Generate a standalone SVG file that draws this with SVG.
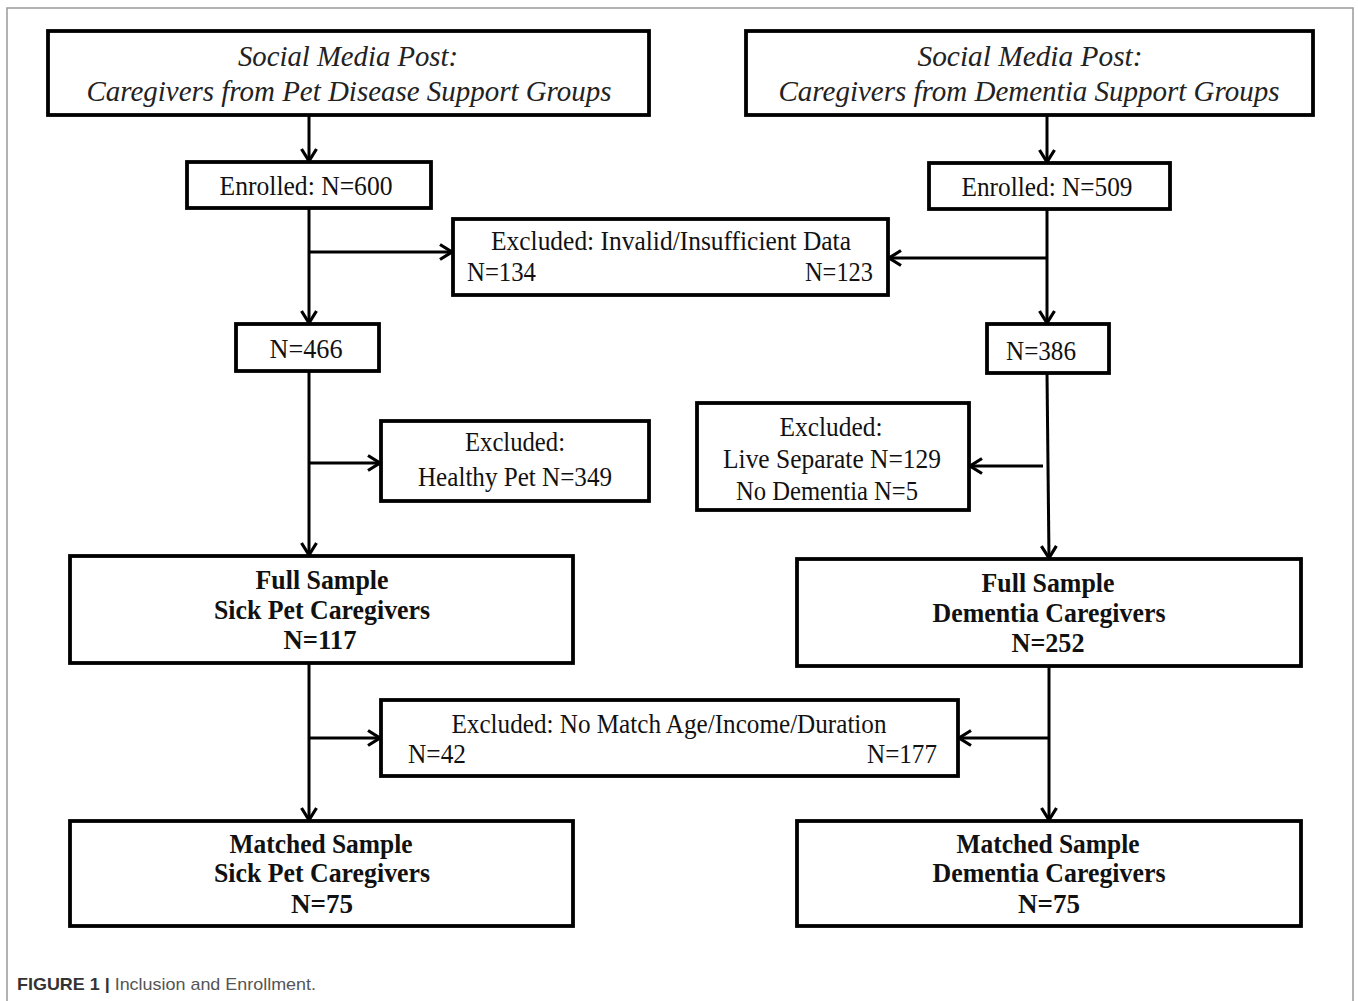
<svg xmlns="http://www.w3.org/2000/svg" width="1358" height="1001" viewBox="0 0 1358 1001">
<style>
.box{fill:#fff;stroke:#000;stroke-width:3.8}
.t{font-family:"Liberation Serif","Times New Roman",serif;font-size:28px;fill:#111;text-anchor:middle}
.ti{font-style:italic;font-size:30px;fill:#222}
.tb{font-weight:bold;font-size:27px}
.tl{text-anchor:start}
.te{text-anchor:end}
.c{fill:none;stroke:#000;stroke-width:3;marker-end:url(#ah)}
.cap{font-family:"Liberation Sans",Arial,sans-serif;font-size:17px;fill:#555}
</style>
<defs>
<marker id="ah" markerUnits="userSpaceOnUse" markerWidth="20" markerHeight="20" viewBox="0 0 20 20" refX="15" refY="10" orient="auto">
<path d="M3,2.5 L15,10 L3,17.5" fill="none" stroke="#000" stroke-width="3.2" stroke-linejoin="miter"/>
</marker>
</defs>
<rect width="1358" height="1001" fill="#fff"/>
<path d="M7,1001 V8 H1353 V1001" fill="none" stroke="#999" stroke-width="1.5"/>

<g id="connectors">
<line class="c" x1="309" y1="115" x2="309" y2="161"/>
<line class="c" x1="309" y1="208" x2="309" y2="323"/>
<line class="c" x1="309" y1="252" x2="452" y2="252"/>
<line class="c" x1="309" y1="371" x2="309" y2="555"/>
<line class="c" x1="309" y1="463" x2="380" y2="463"/>
<line class="c" x1="309" y1="663" x2="309" y2="820"/>
<line class="c" x1="309" y1="738" x2="380" y2="738"/>
<line class="c" x1="1047" y1="115" x2="1047" y2="162"/>
<line class="c" x1="1047" y1="209" x2="1047" y2="323"/>
<line class="c" x1="1047" y1="258" x2="889" y2="258"/>
<line class="c" x1="1047" y1="373" x2="1049" y2="558"/>
<line class="c" x1="1043" y1="466" x2="970" y2="466"/>
<line class="c" x1="1049" y1="666" x2="1049" y2="820"/>
<line class="c" x1="1049" y1="738" x2="959" y2="738"/>
</g>

<g id="post-pet">
<rect class="box" x="48" y="31" width="601" height="84"/>
<text class="t ti" x="348" y="66" textLength="220" lengthAdjust="spacingAndGlyphs">Social Media Post:</text>
<text class="t ti" x="349" y="101" textLength="525" lengthAdjust="spacingAndGlyphs">Caregivers  from Pet Disease  Support Groups</text>
</g>
<g id="post-dementia">
<rect class="box" x="746" y="31" width="567" height="84"/>
<text class="t ti" x="1030" y="66" textLength="225" lengthAdjust="spacingAndGlyphs">Social Media Post:</text>
<text class="t ti" x="1029" y="101" textLength="501" lengthAdjust="spacingAndGlyphs">Caregivers  from Dementia  Support Groups</text>
</g>
<g id="enrolled-pet">
<rect class="box" x="187" y="162" width="244" height="46"/>
<text class="t" x="306" y="195" textLength="173" lengthAdjust="spacingAndGlyphs">Enrolled:  N=600</text>
</g>
<g id="enrolled-dementia">
<rect class="box" x="929" y="163" width="241" height="46"/>
<text class="t" x="1047" y="196" textLength="171" lengthAdjust="spacingAndGlyphs">Enrolled:  N=509</text>
</g>
<g id="excluded-invalid">
<rect class="box" x="453" y="219" width="435" height="76"/>
<text class="t" x="671" y="250" textLength="360" lengthAdjust="spacingAndGlyphs">Excluded: Invalid/Insufficient  Data</text>
<text class="t tl" x="467" y="281" textLength="69" lengthAdjust="spacingAndGlyphs">N=134</text>
<text class="t te" x="873" y="281" textLength="68" lengthAdjust="spacingAndGlyphs">N=123</text>
</g>
<g id="n466">
<rect class="box" x="236" y="324" width="143" height="47"/>
<text class="t" x="306" y="358" textLength="73" lengthAdjust="spacingAndGlyphs">N=466</text>
</g>
<g id="n386">
<rect class="box" x="987" y="324" width="122" height="49"/>
<text class="t" x="1041" y="360" textLength="70" lengthAdjust="spacingAndGlyphs">N=386</text>
</g>
<g id="excluded-healthy">
<rect class="box" x="381" y="421" width="268" height="80"/>
<text class="t" x="515" y="451" textLength="100" lengthAdjust="spacingAndGlyphs">Excluded:</text>
<text class="t" x="515" y="486" textLength="194" lengthAdjust="spacingAndGlyphs">Healthy  Pet N=349</text>
</g>
<g id="excluded-live">
<rect class="box" x="697" y="403" width="272" height="107"/>
<text class="t" x="831" y="436" textLength="103" lengthAdjust="spacingAndGlyphs">Excluded:</text>
<text class="t" x="832" y="468" textLength="218" lengthAdjust="spacingAndGlyphs">Live  Separate N=129</text>
<text class="t" x="827" y="500" textLength="182" lengthAdjust="spacingAndGlyphs">No Dementia  N=5</text>
</g>
<g id="full-pet">
<rect class="box" x="70" y="556" width="503" height="107"/>
<text class="t tb" x="322" y="589" textLength="133" lengthAdjust="spacingAndGlyphs">Full Sample</text>
<text class="t tb" x="322" y="619" textLength="216" lengthAdjust="spacingAndGlyphs">Sick Pet Caregivers</text>
<text class="t tb" x="320" y="649" textLength="73" lengthAdjust="spacingAndGlyphs">N=117</text>
</g>
<g id="full-dementia">
<rect class="box" x="797" y="559" width="504" height="107"/>
<text class="t tb" x="1048" y="592" textLength="133" lengthAdjust="spacingAndGlyphs">Full Sample</text>
<text class="t tb" x="1049" y="622" textLength="233" lengthAdjust="spacingAndGlyphs">Dementia Caregivers</text>
<text class="t tb" x="1048" y="652" textLength="73" lengthAdjust="spacingAndGlyphs">N=252</text>
</g>
<g id="excluded-nomatch">
<rect class="box" x="381" y="700" width="577" height="76"/>
<text class="t" x="669" y="733" textLength="435" lengthAdjust="spacingAndGlyphs">Excluded: No Match Age/Income/Duration</text>
<text class="t tl" x="408" y="763" textLength="58" lengthAdjust="spacingAndGlyphs">N=42</text>
<text class="t te" x="937" y="763" textLength="70" lengthAdjust="spacingAndGlyphs">N=177</text>
</g>
<g id="matched-pet">
<rect class="box" x="70" y="821" width="503" height="105"/>
<text class="t tb" x="321" y="853" textLength="183" lengthAdjust="spacingAndGlyphs">Matched Sample</text>
<text class="t tb" x="322" y="882" textLength="216" lengthAdjust="spacingAndGlyphs">Sick Pet Caregivers</text>
<text class="t tb" x="322" y="913" textLength="62" lengthAdjust="spacingAndGlyphs">N=75</text>
</g>
<g id="matched-dementia">
<rect class="box" x="797" y="821" width="504" height="105"/>
<text class="t tb" x="1048" y="853" textLength="183" lengthAdjust="spacingAndGlyphs">Matched Sample</text>
<text class="t tb" x="1049" y="882" textLength="233" lengthAdjust="spacingAndGlyphs">Dementia Caregivers</text>
<text class="t tb" x="1049" y="913" textLength="62" lengthAdjust="spacingAndGlyphs">N=75</text>
</g>

<text class="cap" x="17" y="990" textLength="299" lengthAdjust="spacingAndGlyphs"><tspan font-weight="bold" fill="#333">FIGURE 1 |</tspan> Inclusion and Enrollment.</text>
</svg>
